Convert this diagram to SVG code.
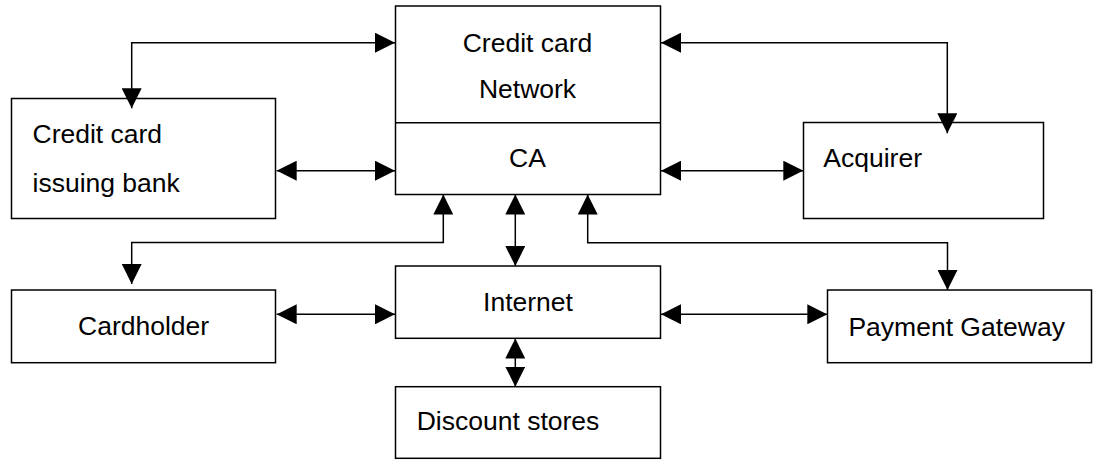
<svg xmlns="http://www.w3.org/2000/svg" width="1096" height="461" viewBox="0 0 1096 461">
<style>
.box{fill:#fff;stroke:#000;stroke-width:1.5}
.t{font-family:"Liberation Sans",Arial,sans-serif;font-size:26.5px;fill:#000}
.c{text-anchor:middle}
.ln{fill:none;stroke:#000;stroke-width:1.5}
</style>
<defs>
<marker id="ah" markerUnits="userSpaceOnUse" markerWidth="20" markerHeight="20" refX="20" refY="10" orient="auto-start-reverse" viewBox="0 0 20 20">
<path d="M0,0 L20,10 L0,20 Z" fill="#000"/>
</marker>
</defs>
<rect width="1096" height="461" fill="#fff"/>
<g id="issuing">
<rect class="box" x="11.5" y="98.5" width="264" height="120"/>
<text class="t" x="32.5" y="143.3">Credit card</text>
<text class="t" x="32.5" y="191.7">issuing bank</text>
</g>
<g id="network">
<rect class="box" x="395.5" y="6" width="265" height="188.5"/>
<line class="ln" x1="395.5" y1="122.7" x2="660.5" y2="122.7"/>
<text class="t c" x="527.5" y="51.7">Credit card</text>
<text class="t c" x="527.5" y="97.7">Network</text>
<text class="t c" x="527.5" y="166.7">CA</text>
</g>
<g id="acquirer">
<rect class="box" x="803.5" y="122.5" width="240" height="96"/>
<text class="t" x="823.3" y="166.7">Acquirer</text>
</g>
<g id="cardholder">
<rect class="box" x="11.5" y="290" width="264" height="72.7"/>
<text class="t c" x="143.6" y="335">Cardholder</text>
</g>
<g id="internet">
<rect class="box" x="395.5" y="266" width="265" height="72.3"/>
<text class="t c" x="528" y="310.7">Internet</text>
</g>
<g id="gateway">
<rect class="box" x="827.5" y="290" width="264" height="72.7"/>
<text class="t c" x="956.7" y="335.5">Payment Gateway</text>
</g>
<g id="discount">
<rect class="box" x="395.5" y="386.7" width="265" height="71.6"/>
<text class="t" x="416.7" y="430">Discount stores</text>
</g>
<g id="connectors">
<path class="ln" d="M395,42.7 H131.7 V108.3" marker-start="url(#ah)" marker-end="url(#ah)"/>
<path class="ln" d="M661,42.7 H947.3 V133.3" marker-start="url(#ah)" marker-end="url(#ah)"/>
<path class="ln" d="M276.7,170.7 H395" marker-start="url(#ah)" marker-end="url(#ah)"/>
<path class="ln" d="M661,170.7 H803.3" marker-start="url(#ah)" marker-end="url(#ah)"/>
<path class="ln" d="M443.3,194.5 V242.5 H131.7 V284" marker-start="url(#ah)" marker-end="url(#ah)"/>
<path class="ln" d="M587.7,194.5 V242.7 H947.5 V290" marker-start="url(#ah)" marker-end="url(#ah)"/>
<path class="ln" d="M515.3,194.5 V266" marker-start="url(#ah)" marker-end="url(#ah)"/>
<path class="ln" d="M276.7,314.3 H395" marker-start="url(#ah)" marker-end="url(#ah)"/>
<path class="ln" d="M661,314.3 H827.3" marker-start="url(#ah)" marker-end="url(#ah)"/>
<path class="ln" d="M515.3,338.5 V386.7" marker-start="url(#ah)" marker-end="url(#ah)"/>
</g>
</svg>
